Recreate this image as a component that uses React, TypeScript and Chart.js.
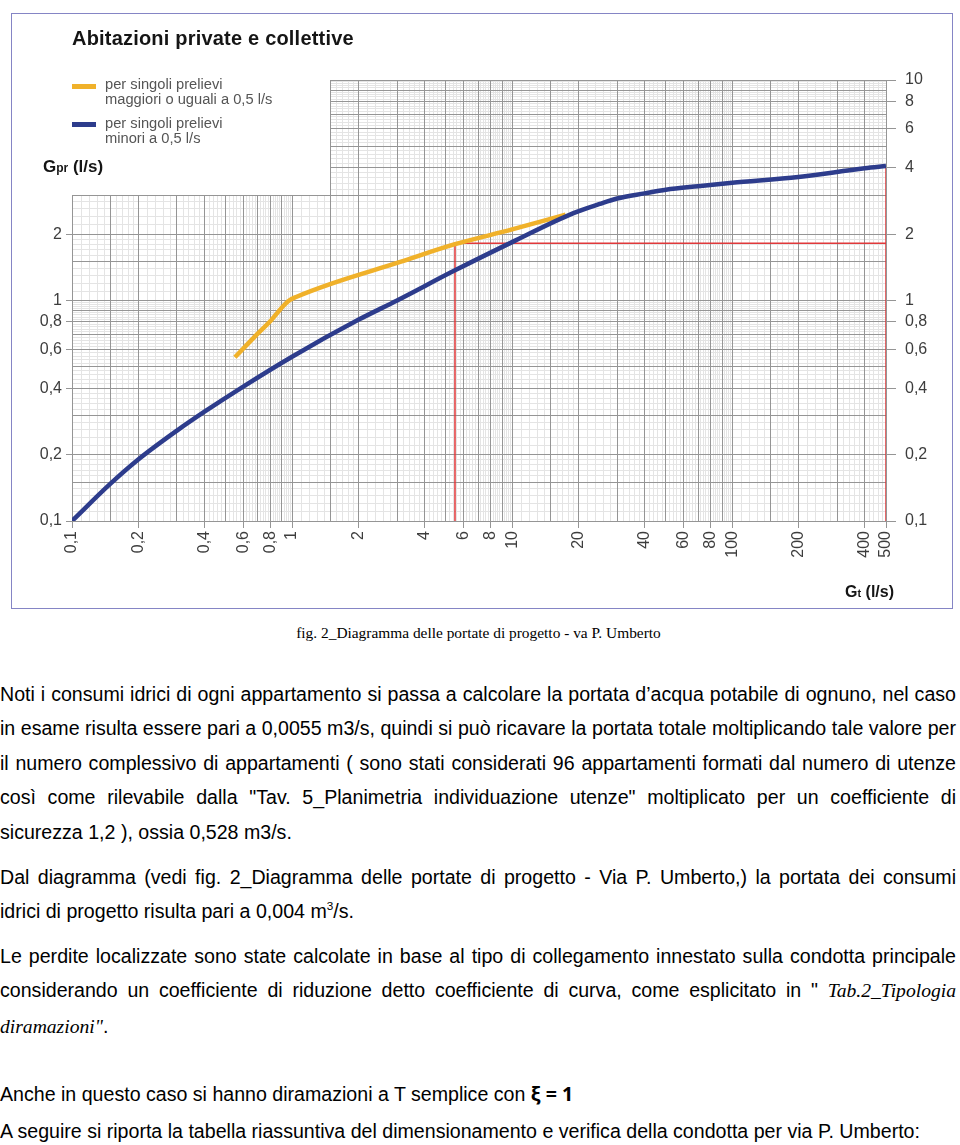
import React, { useEffect, useRef } from 'react';
import { Chart, registerables } from 'chart.js';

Chart.register(...registerables);

// ---- data ----
const blueX = [0.1, 0.15, 0.2, 0.3, 0.4, 0.6, 1, 2, 3, 5.5, 10, 19, 25, 30, 40, 50, 70, 100, 200, 400, 500];
const blueY = [0.1, 0.148, 0.19, 0.257, 0.313, 0.407, 0.556, 0.817, 1.0, 1.37, 1.84, 2.49, 2.74, 2.9, 3.06, 3.18, 3.3, 3.42, 3.63, 3.98, 4.07];

const orangeX = [0.55, 0.7, 0.8, 0.9, 0.97, 1.05, 1.5, 3, 5.5, 10, 17.5];
const orangeY = [0.553, 0.71, 0.81, 0.93, 1.0, 1.04, 1.19, 1.48, 1.8, 2.1, 2.45];

const redPathX = [5.5, 5.5, 500];
const redPathY = [0.1, 1.82, 1.82];
const redEdgeX = [500, 500];
const redEdgeY = [4.07, 0.1];

const xTickLabels = [0.1, 0.2, 0.4, 0.6, 0.8, 1, 2, 4, 6, 8, 10, 20, 40, 60, 80, 100, 200, 400, 500];
const yLeftLabels = [0.1, 0.2, 0.4, 0.6, 0.8, 1, 2];
const yRightLabels = [0.1, 0.2, 0.4, 0.6, 0.8, 1, 2, 4, 6, 8, 10];
const majorMantissas = [1, 1.5, 2, 3, 4, 5, 6, 7, 8, 9];

const X_MIN = 0.1;
const X_MAX = 500;
const Y_MIN = 0.1;
const Y_MAX = 10;
const CUT_X = 1.5; // grid of the left part stops at this Gt
const CUT_Y = 3; // ... and at this Gpr

const FONT = '"Liberation Sans", Arial, Helvetica, sans-serif';
const SERIF = '"Liberation Serif", "Times New Roman", serif';
const TICK_COLOR = '#3d3d3d';
const MAJOR_COLOR = '#959595';
const FINE_COLOR = '#e4e4e4';
const BLUE = '#2d3c8c';
const ORANGE = '#f0b12a';
const RED = '#e0383a';

const has = (arr: number[], v: number) => arr.some((a) => Math.abs(a - v) / a < 1e-6);
const fmt = (v: number) => String(v).replace('.', ',');

function gridValues(min: number, max: number, major: boolean): number[] {
  const out: number[] = [];
  for (let e = -1; e <= 2; e++) {
    const d = Math.pow(10, e);
    for (let m = 10; m < 100; m++) {
      const mm = m / 10;
      const isMaj = majorMantissas.includes(mm);
      const isFine = !isMaj && (mm < 2 || m % 2 === 0);
      if ((major && isMaj) || (!major && isFine)) {
        const v = Math.round(mm * d * 1e6) / 1e6;
        if (v >= min - 1e-9 && v <= max + 1e-9) out.push(v);
      }
    }
  }
  return out;
}

const tickFont = { family: FONT, size: 16 };

const cutoutPlugin = {
  id: 'cutout',
  beforeDatasetsDraw(chart: any) {
    const { ctx, chartArea, scales } = chart;
    const xr = Math.round(scales.x.getPixelForValue(CUT_X) - 0.5);
    const yb = Math.round(scales.y.getPixelForValue(CUT_Y) - 0.5);
    const l = chartArea.left - 2;
    const t = chartArea.top - 2;
    ctx.save();
    ctx.fillStyle = '#ffffff';
    ctx.fillRect(l, t, xr - l, yb - t);
    ctx.restore();
  },
};

function pts(xs: number[], ys: number[]) {
  return xs.map((x, i) => ({ x, y: ys[i] }));
}

export default function App() {
  const ref = useRef<HTMLCanvasElement>(null);

  useEffect(() => {
    const chart = new Chart(ref.current as HTMLCanvasElement, {
      type: 'line',
      data: {
        datasets: [
          {
            label: 'per singoli prelievi minori a 0,5 l/s',
            data: pts(blueX, blueY),
            borderColor: BLUE,
            borderWidth: 4.5,
            pointRadius: 0,
            cubicInterpolationMode: 'monotone',
            xAxisID: 'x',
            yAxisID: 'y',
            order: 1,
          },
          {
            label: 'per singoli prelievi maggiori o uguali a 0,5 l/s',
            data: pts(orangeX, orangeY),
            borderColor: ORANGE,
            borderWidth: 4.5,
            pointRadius: 0,
            cubicInterpolationMode: 'monotone',
            xAxisID: 'x',
            yAxisID: 'y',
            order: 2,
          },
          {
            label: 'lettura',
            data: pts(redPathX, redPathY),
            borderColor: RED,
            borderWidth: 1.5,
            pointRadius: 0,
            tension: 0,
            xAxisID: 'x',
            yAxisID: 'y',
            order: 3,
          },
          {
            label: 'bordo',
            data: pts(redEdgeX, redEdgeY),
            borderColor: RED,
            borderWidth: 1.5,
            pointRadius: 0,
            tension: 0,
            xAxisID: 'x',
            yAxisID: 'y',
            order: 3,
          },
        ],
      },
      options: {
        animation: false,
        responsive: false,
        maintainAspectRatio: false,
        events: [],
        layout: { padding: { top: 66, left: 0, right: 0, bottom: 0 } },
        plugins: { legend: { display: false }, tooltip: { enabled: false }, title: { display: false } },
        scales: {
          xFine: {
            type: 'logarithmic',
            position: 'bottom',
            min: X_MIN,
            max: X_MAX,
            afterBuildTicks: (s: any) => {
              s.ticks = gridValues(X_MIN, X_MAX, false).map((v) => ({ value: v }));
            },
            afterFit: (s: any) => {
              s.height = 0;
            },
            ticks: { display: false, autoSkip: false },
            grid: { color: FINE_COLOR, lineWidth: 1, drawTicks: false, z: -2 },
            border: { display: false },
          },
          yFine: {
            type: 'logarithmic',
            position: 'left',
            min: Y_MIN,
            max: Y_MAX,
            afterBuildTicks: (s: any) => {
              s.ticks = gridValues(Y_MIN, Y_MAX, false).map((v) => ({ value: v }));
            },
            afterFit: (s: any) => {
              s.width = 0;
            },
            ticks: { display: false, autoSkip: false },
            grid: { color: FINE_COLOR, lineWidth: 1, drawTicks: false, z: -2 },
            border: { display: false },
          },
          x: {
            type: 'logarithmic',
            position: 'bottom',
            min: X_MIN,
            max: X_MAX,
            afterBuildTicks: (s: any) => {
              s.ticks = gridValues(X_MIN, X_MAX, true).map((v) => ({ value: v }));
            },
            afterFit: (s: any) => {
              s.height = 87;
            },
            ticks: {
              autoSkip: false,
              minRotation: 90,
              maxRotation: 90,
              padding: 3,
              color: TICK_COLOR,
              font: tickFont,
              callback: (v: any) => (has(xTickLabels, Number(v)) ? fmt(Number(v)) : ''),
            },
            grid: {
              color: MAJOR_COLOR,
              lineWidth: 1,
              tickLength: 7,
              tickColor: (c: any) => (c.tick && !has(xTickLabels, c.tick.value) ? 'rgba(0,0,0,0)' : MAJOR_COLOR),
              z: -1,
            },
            border: { display: false },
          },
          y: {
            type: 'logarithmic',
            position: 'left',
            min: Y_MIN,
            max: Y_MAX,
            afterBuildTicks: (s: any) => {
              s.ticks = gridValues(Y_MIN, Y_MAX, true).map((v) => ({ value: v }));
            },
            afterFit: (s: any) => {
              s.width = 60;
            },
            ticks: {
              autoSkip: false,
              padding: 4,
              color: TICK_COLOR,
              font: tickFont,
              callback: (v: any) => (has(yLeftLabels, Number(v)) ? fmt(Number(v)) : ''),
            },
            grid: {
              color: MAJOR_COLOR,
              lineWidth: 1,
              tickLength: 6,
              tickColor: (c: any) => (c.tick && !has(yLeftLabels, c.tick.value) ? 'rgba(0,0,0,0)' : MAJOR_COLOR),
              z: -1,
            },
            border: { display: false },
          },
          y2: {
            type: 'logarithmic',
            position: 'right',
            min: Y_MIN,
            max: Y_MAX,
            afterBuildTicks: (s: any) => {
              s.ticks = yRightLabels.map((v) => ({ value: v }));
            },
            afterFit: (s: any) => {
              s.width = 66;
            },
            ticks: {
              autoSkip: false,
              padding: 9,
              color: TICK_COLOR,
              font: tickFont,
              callback: (v: any) => fmt(Number(v)),
            },
            grid: { drawOnChartArea: false, color: MAJOR_COLOR, tickColor: MAJOR_COLOR, tickLength: 10 },
            border: { display: false },
          },
        },
      } as any,
      plugins: [cutoutPlugin],
    } as any);
    return () => chart.destroy();
  }, []);

  const justified: React.CSSProperties = {
    textAlign: 'justify',
    textAlignLast: 'justify',
    whiteSpace: 'nowrap',
  };
  const plain: React.CSSProperties = { textAlign: 'left', whiteSpace: 'nowrap' };
  const para = (top: number): React.CSSProperties => ({
    position: 'absolute',
    left: 0,
    top,
    width: 956,
    fontFamily: FONT,
    fontSize: 19.6,
    lineHeight: '34.4px',
    color: '#000',
  });
  const ital: React.CSSProperties = { fontFamily: SERIF, fontStyle: 'italic' };

  return (
    <div
      style={{
        position: 'absolute',
        left: 0,
        top: 0,
        width: 960,
        height: 1145,
        background: '#fff',
        overflow: 'hidden',
        fontFamily: FONT,
      }}
    >
      <div
        style={{
          position: 'absolute',
          left: 11,
          top: 13,
          width: 940,
          height: 594,
          border: '1px solid #8585c5',
          background: '#fff',
        }}
      />
      <canvas ref={ref} width={940} height={594} style={{ position: 'absolute', left: 12, top: 14 }} />

      <div
        style={{
          position: 'absolute',
          left: 72,
          top: 28,
          fontSize: 20,
          lineHeight: '20px',
          fontWeight: 'bold',
          letterSpacing: 0.2,
          color: '#151515',
          whiteSpace: 'nowrap',
        }}
      >
        Abitazioni private e collettive
      </div>

      <div style={{ position: 'absolute', left: 72, top: 84, width: 24, height: 4.5, background: ORANGE }} />
      <div
        style={{
          position: 'absolute',
          left: 105,
          top: 77,
          fontSize: 14.7,
          lineHeight: '14.5px',
          color: '#555',
          whiteSpace: 'nowrap',
        }}
      >
        per singoli prelievi
        <br />
        maggiori o uguali a 0,5 l/s
      </div>
      <div style={{ position: 'absolute', left: 72, top: 122, width: 24, height: 4.5, background: BLUE }} />
      <div
        style={{
          position: 'absolute',
          left: 105,
          top: 116,
          fontSize: 14.7,
          lineHeight: '14.5px',
          color: '#555',
          whiteSpace: 'nowrap',
        }}
      >
        per singoli prelievi
        <br />
        minori a 0,5 l/s
      </div>

      <div
        style={{
          position: 'absolute',
          left: 43,
          top: 158,
          fontSize: 17,
          lineHeight: '17px',
          fontWeight: 'bold',
          color: '#151515',
          whiteSpace: 'nowrap',
        }}
      >
        G<span style={{ fontSize: 12 }}>pr</span> (l/s)
      </div>
      <div
        style={{
          position: 'absolute',
          left: 845,
          top: 584,
          fontSize: 16,
          lineHeight: '16px',
          fontWeight: 'bold',
          color: '#151515',
          whiteSpace: 'nowrap',
        }}
      >
        G<span style={{ fontSize: 11 }}>t</span> (l/s)
      </div>

      <div
        style={{
          position: 'absolute',
          left: 0,
          top: 625,
          width: 957,
          textAlign: 'center',
          fontFamily: SERIF,
          fontSize: 15.4,
          lineHeight: '15.4px',
          color: '#000',
          whiteSpace: 'nowrap',
        }}
      >
        fig. 2_Diagramma delle portate di progetto - va P. Umberto
      </div>

      <div style={para(677)}>
        <div style={justified}>
          Noti i consumi idrici di ogni appartamento si passa a calcolare la portata d’acqua potabile di ognuno, nel caso
        </div>
        <div style={justified}>
          in esame risulta essere pari a 0,0055 m3/s, quindi si può ricavare la portata totale moltiplicando tale valore per
        </div>
        <div style={justified}>
          il numero complessivo di appartamenti ( sono stati considerati 96 appartamenti formati dal numero di utenze
        </div>
        <div style={justified}>
          così come rilevabile dalla "Tav. 5_Planimetria individuazione utenze" moltiplicato per un coefficiente di
        </div>
        <div style={plain}>sicurezza 1,2 ), ossia 0,528 m3/s.</div>
      </div>

      <div style={para(860)}>
        <div style={justified}>
          Dal diagramma (vedi fig. 2_Diagramma delle portate di progetto - Via P. Umberto,) la portata dei consumi
        </div>
        <div style={plain}>
          idrici di progetto risulta pari a 0,004 m
          <sup style={{ fontSize: '0.6em', lineHeight: 0, verticalAlign: 'super' }}>3</sup>/s.
        </div>
      </div>

      <div style={para(939)}>
        <div style={justified}>
          Le perdite localizzate sono state calcolate in base al tipo di collegamento innestato sulla condotta principale
        </div>
        <div style={justified}>
          considerando un coefficiente di riduzione detto coefficiente di curva, come esplicitato in "{' '}
          <span style={ital}>Tab.2_Tipologia</span>
        </div>
        <div style={plain}>
          <span style={ital}>diramazioni"</span>.
        </div>
      </div>

      <div style={para(1077)}>
        <div style={plain}>
          Anche in questo caso si hanno diramazioni a T semplice con{' '}
          <span style={{ fontFamily: '"Open Sans", "Noto Sans", sans-serif', fontWeight: 'bold' }}>ξ = 1</span>
        </div>
      </div>

      <div style={para(1114)}>
        <div style={plain}>
          A seguire si riporta la tabella riassuntiva del dimensionamento e verifica della condotta per via P. Umberto:
        </div>
      </div>
    </div>
  );
}
